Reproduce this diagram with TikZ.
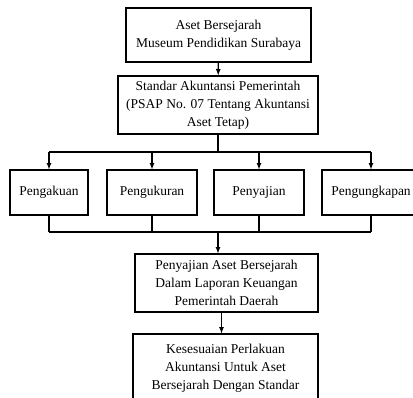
\documentclass[tikz,border=0pt]{standalone}
\usepackage{fontspec}
\setmainfont{Liberation Serif}
\usetikzlibrary{calc}
\tikzset{
	kotak/.style={draw, line width=1.2pt, inner sep=0pt, align=center, font=\fontsize{13.5}{18}\selectfont},
	garis/.style={line width=1.2pt},
	panah/.style={line width=1.2pt, -latex}
}

\begin{document}
\begin{tikzpicture}[x=1pt, y=-1pt]
			%%%%% START %%%%%
			
			\clip (0, 0) rectangle (413, 397);
			
			\node[kotak, minimum width=185pt, minimum height=54pt] (aset) at (218.5, 35) {Aset Bersejarah\\Museum Pendidikan Surabaya};
			\node[kotak, minimum width=200pt, minimum height=58pt] (stdr) at (218, 105) {Standar Akuntansi Pemerintah\\(PSAP No. 07 Tentang Akuntansi\\Aset Tetap)};
			
			\node[kotak, minimum width=78pt, minimum height=45pt] (akui) at (49, 192.5) {Pengakuan};
			\node[kotak, minimum width=90pt, minimum height=45pt] (ukur) at (152, 192.5) {Pengukuran};
			\node[kotak, minimum width=90pt, minimum height=45pt] (saji) at (259, 192.5) {Penyajian};
			\node[kotak, minimum width=98pt, minimum height=45pt] (ungk) at (371, 192.5) {Pengungkapan};
			
			\node[kotak, minimum width=183pt, minimum height=58pt] (lapor) at (226.5, 283) {Penyajian Aset Bersejarah\\Dalam Laporan Keuangan\\Pemerintah Daerah};
			\node[kotak, minimum width=185pt, minimum height=68pt] (sesuai) at (225.5, 368) {Kesesuaian Perlakuan\\Akuntansi Untuk Aset\\Bersejarah Dengan Standar};
			
			\draw[panah] (aset) -- (stdr);
			
			% cabang ke empat unsur
			\coordinate (cabang) at (218, 152);
			\draw[garis] (stdr) -- (cabang);
			\draw[garis] (cabang -| akui.north) -- (cabang -| ungk.north);
			\foreach \n in {akui, ukur, saji, ungk}
				\draw[panah] (cabang -| \n.north) -- (\n.north);
			
			% gabung ke laporan
			\coordinate (gabung) at (218, 232);
			\foreach \n in {akui, ukur, saji, ungk}
				\draw[garis] (\n.south) -- (gabung -| \n.south);
			\draw[garis] (gabung -| akui.south) -- (gabung -| ungk.south);
			\draw[panah] (gabung) -- (gabung |- lapor.north);
			
			\draw[panah] ([xshift=-5pt]lapor.south) -- ([xshift=-5pt]lapor.south |- sesuai.north);
			
			%%%%% END %%%%%
		\end{tikzpicture}
\end{document}
